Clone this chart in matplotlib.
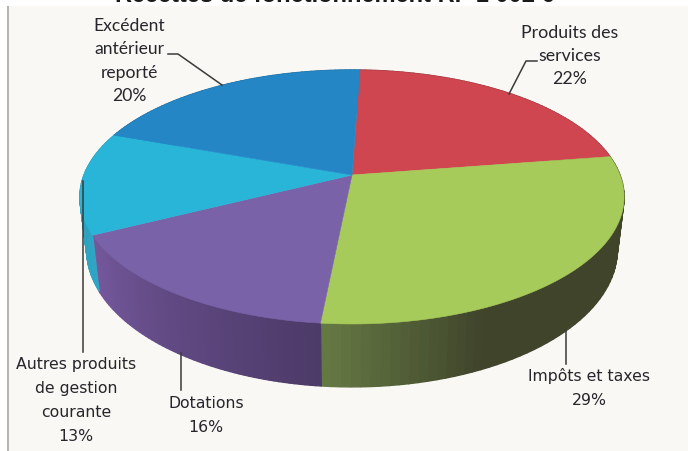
import matplotlib
matplotlib.use("Agg")
import matplotlib.pyplot as plt
from matplotlib.patches import Polygon, Rectangle
from matplotlib.colors import to_rgb
import numpy as np

# chart data
categories = ["Produits des\nservices", "Impôts et taxes", "Dotations",
              "Autres produits\nde gestion\ncourante", "Excédent\nantérieur\nreporté"]
values = [22, 29, 16, 13, 20]
top_colors = ["#cf4650", "#a6cb5a", "#7a62a9", "#29b5d8", "#2586c6"]
title = "Recettes de fonctionnement RF 1 002 6"

# wall shading: colour at the start and end of each slice's visible side
wall_start = ["#8c3038", "#3f442b", "#4c3a68", "#30a6c4", "#1c6a9c"]
wall_end = ["#8c3038", "#667a44", "#74589c", "#2c9cb8", "#1c6a9c"]

W, H = 688, 452
start = 2.0
cx, cy = 352, 176
A, B, k = 268, 123.2, 0.173
depth, scale_x, scale_y = 51, 0.975, 1.08


def rim(theta, lower=False):
    # perspective view of the circle, theta clockwise from the top
    t = np.radians(theta)
    x, y = np.sin(t), np.cos(t)
    w = 1 + k * y
    if lower:
        return cx + A * scale_x * x / w, cy + depth - B * scale_y * y / w
    return cx + A * x / w, cy - B * y / w


def shade(i, f):
    a, b = np.array(to_rgb(wall_start[i])), np.array(to_rgb(wall_end[i]))
    return a + (b - a) * f


fig = plt.figure(figsize=(W / 100, H / 100), dpi=100, facecolor="white")
ax = fig.add_axes([0, 0, 1, 1])
ax.set_xlim(0, W)
ax.set_ylim(H, 0)
ax.axis("off")

ax.add_patch(Rectangle((9, 7), W - 9, H - 7, fc="#f9f8f4", ec="none"))
ax.add_patch(Rectangle((7, 7), 2, H - 7, fc="#b4b4b2", ec="none"))

ax.text(335, 2.5, title, ha="center", va="baseline", fontsize=17, fontweight="bold",
        family="Liberation Sans", color="#1a1a1a")

edges = start + np.cumsum([0] + values) * 3.6

# side walls first, the top face covers what is behind
for i in range(len(values)):
    th = np.linspace(edges[i], edges[i + 1], 60)
    for j in range(len(th) - 1):
        t0, t1 = th[j], th[j + 1]
        x0, y0 = rim(t0)
        x1, y1 = rim(t1)
        x2, y2 = rim(t1, True)
        x3, y3 = rim(t0, True)
        f = j / (len(th) - 2)
        if i == 1:
            # green side is flat dark until close to the front
            f = min(1, max(0, (t0 - 155) / 30))
        c = shade(i, f)
        ax.add_patch(Polygon([(x0, y0), (x1, y1), (x2, y2), (x3, y3)], fc=c, ec=c, lw=1.0))

for i in range(len(values)):
    th = np.linspace(edges[i], edges[i + 1], 120)
    xs, ys = rim(th)
    pts = [(cx, cy)] + list(zip(xs, ys))
    ax.add_patch(Polygon(pts, fc=top_colors[i], ec=top_colors[i], lw=0.4, zorder=3))

# leader lines
leaders = [
    [(537, 62), (526, 62), (509, 95)],
    [(566, 332), (566, 365)],
    [(181, 354), (181, 391)],
    [(82.5, 182), (82.5, 353)],
    [(168, 55), (178, 55), (222, 86)],
]
for pts in leaders:
    ax.plot(*zip(*pts), color="#3a3a3a", lw=1.1, zorder=4)

# labels
label_xy = [(570, 56), (589, 388), (206, 416), (76, 401), (129, 61)]
label_fonts = ["Lato", "DejaVu Sans", "DejaVu Sans", "DejaVu Sans", "Lato"]
label_sizes = [12.8, 11.3, 11.3, 11.3, 12.6]
label_space = [1.5, 1.75, 1.75, 1.75, 1.55]
for name, v, xy, fam, fs, sp in zip(categories, values, label_xy, label_fonts, label_sizes, label_space):
    ax.text(xy[0], xy[1], f"{name}\n{v}%", ha="center", va="center", family=fam, fontsize=fs,
            color="#26262c", linespacing=sp, zorder=5)

fig.savefig("out.png", dpi=100)
